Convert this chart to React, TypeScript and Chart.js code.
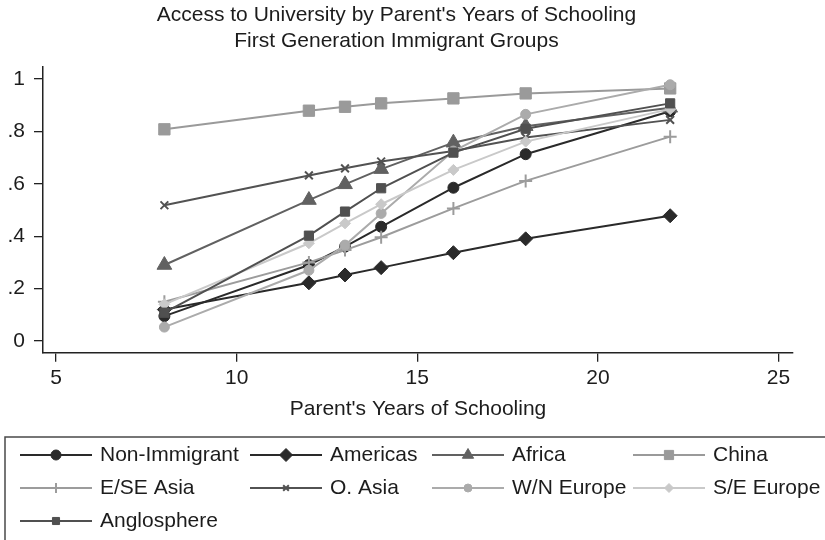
import React, { useEffect, useRef } from 'react';
import { Chart, registerables } from 'chart.js';
import { drawPoint } from 'chart.js/helpers';

Chart.register(...registerables);

// Parent's years of schooling (x positions of every series)
const years = [8, 12, 13, 14, 16, 18, 22];

// Share reaching university, by group
const nonImmigrant = [0.095, 0.29, 0.36, 0.436, 0.585, 0.713, 0.877];
const americas = [0.12, 0.222, 0.252, 0.28, 0.337, 0.39, 0.478];
const africa = [0.29, 0.538, 0.598, 0.656, 0.757, 0.82, 0.89];
const china = [0.808, 0.879, 0.894, 0.907, 0.926, 0.945, 0.964];
const eseAsia = [0.15, 0.3, 0.347, 0.396, 0.506, 0.611, 0.78];
const oAsia = [0.518, 0.632, 0.659, 0.685, 0.725, 0.777, 0.844];
const wnEurope = [0.053, 0.27, 0.366, 0.487, 0.725, 0.865, 0.978];
const seEurope = [0.14, 0.373, 0.449, 0.522, 0.653, 0.761, 0.885];
const anglosphere = [0.108, 0.402, 0.494, 0.583, 0.719, 0.81, 0.907];

const groupNames = [
  'Non-Immigrant', 'Americas', 'Africa', 'China',
  'E/SE Asia', 'O. Asia', 'W/N Europe', 'S/E Europe',
  'Anglosphere',
];
const groupValues = [
  nonImmigrant, americas, africa, china,
  eseAsia, oAsia, wnEurope, seEurope,
  anglosphere,
];

const xTicks = [5, 10, 15, 20, 25];
const yTicks = [0, 0.2, 0.4, 0.6, 0.8, 1];

const titleLines = [
  "Access to University by Parent's Years of Schooling",
  'First Generation Immigrant Groups',
];
const xAxisTitle = "Parent's Years of Schooling";

const FONT = '"Liberation Sans", Arial, Helvetica, sans-serif';
const TEXT = '#1c1c1c';
const AXIS = '#222222';

// Per-group line colour and marker
type Look = { color: string; style: string; radius: number; legendRadius: number; stroke: number };
const looks: Look[] = [
  { color: '#2a2a2a', style: 'circle', radius: 5.5, legendRadius: 5, stroke: 1 },
  { color: '#2a2a2a', style: 'rectRot', radius: 7, legendRadius: 6.5, stroke: 1 },
  { color: '#616161', style: 'triangle', radius: 8.5, legendRadius: 6.5, stroke: 1 },
  { color: '#9a9a9a', style: 'rect', radius: 8, legendRadius: 6.5, stroke: 1 },
  { color: '#9c9c9c', style: 'cross', radius: 6.5, legendRadius: 5, stroke: 2 },
  { color: '#525252', style: 'crossRot', radius: 5.5, legendRadius: 4, stroke: 2 },
  { color: '#ababab', style: 'circle', radius: 5, legendRadius: 4, stroke: 1 },
  { color: '#c9c9c9', style: 'rectRot', radius: 5.5, legendRadius: 4.5, stroke: 1 },
  { color: '#505050', style: 'rect', radius: 6.5, legendRadius: 5, stroke: 1 },
];

// Legend grid: four columns, rows below the axis title
const legendCols = [20, 250, 432, 633];
const legendRows = [455, 488, 521];
const legendLineLen = 72;

const stataLegend = {
  id: 'stataLegend',
  afterDraw(chart: any) {
    const ctx: CanvasRenderingContext2D = chart.ctx;
    const area = chart.chartArea;
    ctx.save();
    ctx.font = `21px ${FONT}`;
    ctx.fillStyle = TEXT;
    ctx.textAlign = 'center';
    ctx.textBaseline = 'middle';
    ctx.fillText(xAxisTitle, (area.left + area.right) / 2, 409);

    // legend frame
    ctx.strokeStyle = '#4a4a4a';
    ctx.lineWidth = 1.5;
    ctx.beginPath();
    ctx.moveTo(5, 541);
    ctx.lineTo(5, 437);
    ctx.lineTo(830, 437);
    ctx.stroke();

    chart.data.datasets.forEach((ds: any, i: number) => {
      const look = looks[i];
      const x0 = legendCols[i % 4];
      const y = legendRows[Math.floor(i / 4)];
      ctx.strokeStyle = look.color;
      ctx.lineWidth = 2;
      ctx.beginPath();
      ctx.moveTo(x0, y);
      ctx.lineTo(x0 + legendLineLen, y);
      ctx.stroke();
      ctx.fillStyle = look.color;
      ctx.strokeStyle = look.color;
      ctx.lineWidth = look.stroke;
      drawPoint(ctx, { pointStyle: look.style as any, radius: look.legendRadius, borderWidth: look.stroke, rotation: 0 } as any,
        x0 + legendLineLen / 2, y);
      ctx.fillStyle = TEXT;
      ctx.textAlign = 'left';
      ctx.textBaseline = 'middle';
      ctx.font = `21px ${FONT}`;
      ctx.fillText(ds.label, x0 + legendLineLen + 8, y);
    });
    ctx.restore();
  },
};

function yLabel(v: number): string {
  if (v === 0) return '0';
  if (v === 1) return '1';
  return v.toFixed(1).replace(/^0/, '');
}

export default function App() {
  const canvasRef = useRef<HTMLCanvasElement | null>(null);

  useEffect(() => {
    if (!canvasRef.current) return;
    const datasets = groupValues.map((vals, i) => {
      const look = looks[i];
      return {
        label: groupNames[i],
        data: years.map((x, j) => ({ x, y: vals[j] })),
        borderColor: look.color,
        backgroundColor: look.color,
        borderWidth: 2,
        pointStyle: look.style as any,
        pointRadius: look.radius,
        pointBackgroundColor: look.color,
        pointBorderColor: look.color,
        pointBorderWidth: look.stroke,
        tension: 0,
        fill: false,
        order: -i,
      };
    });

    const chart = new Chart(canvasRef.current, {
      type: 'line',
      data: { datasets },
      plugins: [stataLegend],
      options: {
        responsive: false,
        maintainAspectRatio: false,
        animation: false,
        devicePixelRatio: 1,
        layout: { padding: { left: 0, right: 32, top: 0, bottom: 0 } },
        plugins: {
          legend: { display: false },
          tooltip: { enabled: false },
          title: {
            display: true,
            text: titleLines,
            color: TEXT,
            font: { family: FONT, size: 21, weight: 'normal', lineHeight: 26 / 21 },
            padding: { top: 2.5, bottom: 12.5 },
          },
        },
        scales: {
          x: {
            type: 'linear',
            min: 4.64,
            max: 25.4,
            afterBuildTicks: (s: any) => { s.ticks = xTicks.map((v) => ({ value: v })); },
            afterFit: (s: any) => { s.height = 187.3; },
            grid: { display: true, drawOnChartArea: false, drawTicks: true, tickLength: 9, color: AXIS, lineWidth: 1.3 },
            border: { display: true, color: AXIS, width: 1.5 },
            ticks: {
              color: TEXT, font: { family: FONT, size: 21 }, padding: 4,
              maxRotation: 0, autoSkip: false, callback: (v: any) => String(v),
            },
          },
          y: {
            type: 'linear',
            min: -0.0447,
            max: 1.0458,
            afterBuildTicks: (s: any) => { s.ticks = yTicks.map((v) => ({ value: v })); },
            afterFit: (s: any) => { s.width = 43; },
            grid: { display: true, drawOnChartArea: false, drawTicks: true, tickLength: 9, color: AXIS, lineWidth: 1.3 },
            border: { display: true, color: AXIS, width: 1.5 },
            ticks: {
              color: TEXT, font: { family: FONT, size: 21 }, padding: 9,
              autoSkip: false, callback: (v: any) => yLabel(Number(v)),
            },
          },
        },
      },
    });
    return () => chart.destroy();
  }, []);

  return (
    <div style={{ position: 'absolute', left: 0, top: 0, width: 825, height: 540, background: '#ffffff', overflow: 'hidden' }}>
      <canvas ref={canvasRef} width={825} height={540} style={{ display: 'block' }} />
    </div>
  );
}
